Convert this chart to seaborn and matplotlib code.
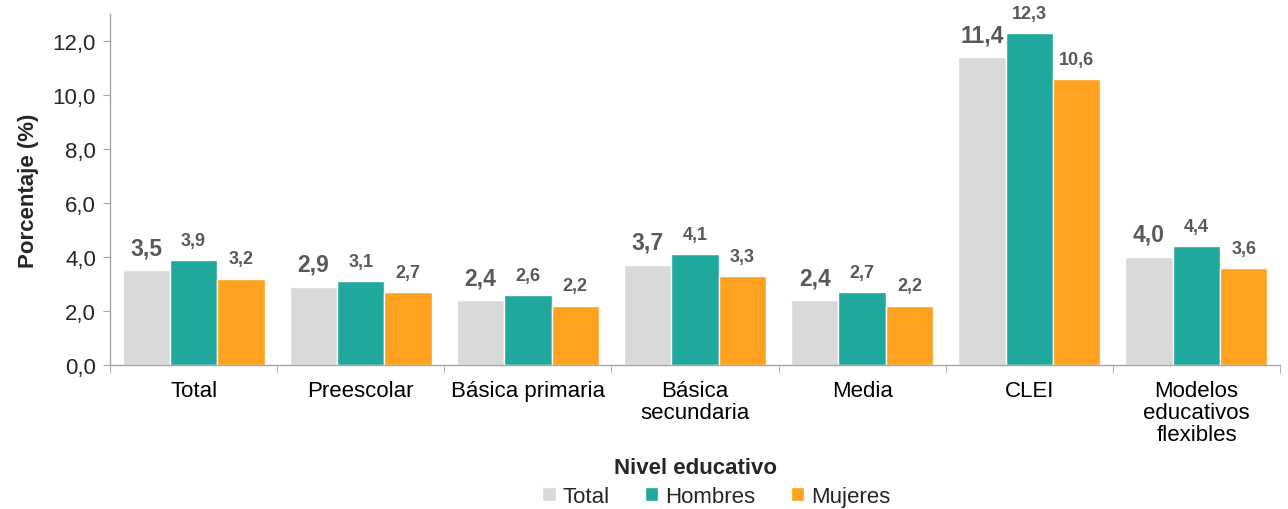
import numpy as np
import pandas as pd
import seaborn as sns
from matplotlib import pyplot as plt
from matplotlib.ticker import FixedLocator

categories = ['Total', 'Preescolar', 'Básica primaria', 'Básica\nsecundaria',
              'Media', 'CLEI', 'Modelos\neducativos\nflexibles']
total = [3.5, 2.9, 2.4, 3.7, 2.4, 11.4, 4.0]
hombres = [3.9, 3.1, 2.6, 4.1, 2.7, 12.3, 4.4]
mujeres = [3.2, 2.7, 2.2, 3.3, 2.2, 10.6, 3.6]
series = ['Total', 'Hombres', 'Mujeres']
colors = ['#D9D9D9', '#20A89C', '#FFA21F']
yticks = [0, 2, 4, 6, 8, 10, 12]

df = pd.DataFrame({
    'nivel': categories * 3,
    'valor': total + hombres + mujeres,
    'serie': [s for s in series for _ in categories],
})

sns.set_style('white')
plt.rcParams['font.family'] = ['Liberation Sans', 'DejaVu Sans']

fig = plt.figure(figsize=(12.88, 5.10), dpi=100)
ax = fig.add_axes([0.0854, 0.2824, 0.9084, 0.6882])

sns.barplot(data=df, x='nivel', y='valor', hue='serie', palette=colors,
            saturation=1, width=0.85, edgecolor='white', linewidth=1,
            ax=ax, legend=True)

# data labels
label_color = '#595959'
for i, cont in enumerate(ax.containers):
    labels = [f'{v:.1f}'.replace('.', ',') for v in cont.datavalues]
    if i == 0:
        ax.bar_label(cont, labels=labels, padding=8, fontsize=16.5,
                     fontweight='bold', color=label_color)
    else:
        ax.bar_label(cont, labels=labels, padding=8, fontsize=13,
                     fontweight='bold', color=label_color)

ax.set_ylim(0, 13)
ax.set_xlim(-0.5, len(categories) - 0.5)
ax.set_yticks(yticks)
ax.set_yticklabels([f'{t:.1f}'.replace('.', ',') for t in yticks], fontsize=16)
ax.set_xticks(range(len(categories)))
ax.set_xticklabels(categories, fontsize=16, linespacing=1.05)
ax.xaxis.set_minor_locator(FixedLocator(np.arange(-0.5, len(categories), 1)))

spine_color = '#A6A6A6'
for side in ['top', 'right']:
    ax.spines[side].set_visible(False)
for side in ['left', 'bottom']:
    ax.spines[side].set_color(spine_color)
    ax.spines[side].set_linewidth(1)

ax.tick_params(axis='x', which='major', length=0, pad=11, colors='black')
ax.tick_params(axis='x', which='minor', length=6, direction='out',
               color=spine_color, bottom=True)
ax.tick_params(axis='y', length=5, direction='out', color=spine_color,
               left=True, pad=5)

ax.set_ylabel('Porcentaje (%)', fontsize=16, fontweight='bold', labelpad=10)
ax.set_xlabel('Nivel educativo', fontsize=16, fontweight='bold', labelpad=9)

handles, labels = ax.get_legend_handles_labels()
ax.get_legend().remove()
fig.legend(handles, labels, loc='lower center', bbox_to_anchor=(0.556, -0.035),
           ncol=3, frameon=False, fontsize=16, handlelength=0.6,
           handleheight=0.6, handletextpad=0.3, columnspacing=1.6)

fig.savefig('out.png', dpi=100)
